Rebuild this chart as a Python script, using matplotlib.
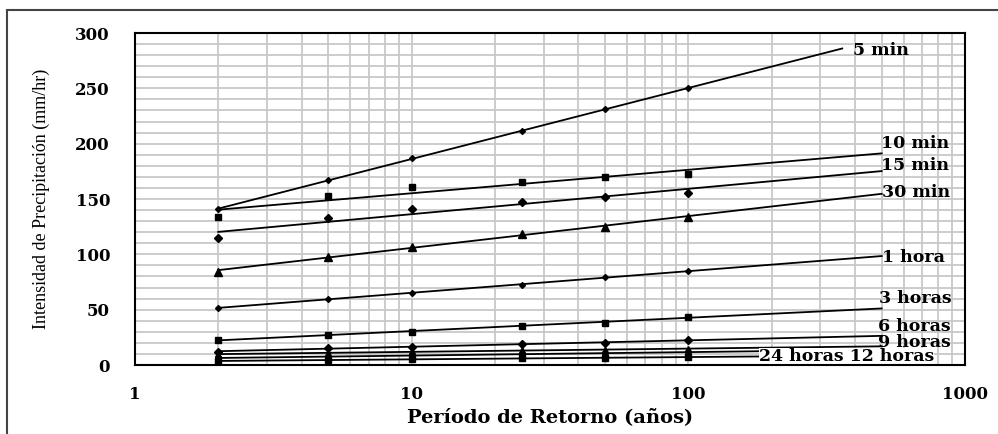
import numpy as np
import matplotlib
matplotlib.use('Agg')
import matplotlib.pyplot as plt
from matplotlib.ticker import LogLocator, FixedLocator, FuncFormatter, NullFormatter
from matplotlib.patches import Rectangle

# Periodos de retorno (años)
periodos = [2, 5, 10, 25, 50, 100]

# Intensidades (mm/hr)
i_5min = [140.7, 167.2, 186.7, 211.7, 231.0, 250.0]
i_10min = [133.4, 153.0, 160.5, 165.6, 169.6, 172.3]
i_15min = [114.4, 133.0, 140.7, 147.0, 152.1, 155.7]
i_30min = [84.3, 97.9, 106.9, 118.4, 125.0, 134.0]
i_1h = [51.8, 59.3, 65.4, 72.3, 79.2, 85.0]
i_3h = [22.5, 27.5, 30.1, 35.2, 38.2, 43.7]
i_6h = [12.0, 15.3, 16.6, 19.0, 20.2, 22.3]
i_9h = [9.5, 11.0, 12.2, 13.5, 13.8, 14.5]
i_12h = [6.5, 7.5, 8.3, 9.8, 11.0, 11.5]
i_24h = [3.5, 4.5, 5.3, 6.0, 6.6, 7.0]

series = [i_5min, i_10min, i_15min, i_30min, i_1h, i_3h, i_6h, i_9h, i_12h, i_24h]
# hasta donde llega la linea de tendencia
fin_tendencia = [360, 500, 500, 500, 500, 500, 500, 500, 500, 500]
marcadores = ['D', 's', 'D', '^', 'D', 's', 'D', '^', 'o', 's']
tam_marc = [3, 4.5, 4.5, 5.5, 3, 5, 4, 4.5, 4, 4.5]

# etiquetas de las curvas: (texto, x, y)
etiquetas = [('5 min', 394, 284.6), ('10 min', 497, 200.5), ('15 min', 497, 180.7),
             ('30 min', 500, 156.3), ('1 hora', 500, 96.7), ('3 horas', 490, 60.5),
             ('6 horas', 485, 34.5), ('9 horas', 485, 20.0)]
etiqueta_baja = ('24 horas 12 horas', 180, 7.8)

fig = plt.figure(figsize=(9.98, 4.34), dpi=100)
ax = fig.add_axes([135 / 998, 69 / 434, 830 / 998, 332 / 434])

lx = np.log10(periodos)
for vals, xfin, m, ms in zip(series, fin_tendencia, marcadores, tam_marc):
    # tendencia logaritmica como en la hoja de calculo
    b, a = np.polyfit(lx, vals, 1)
    xs = np.array([2, xfin])
    ax.plot(xs, a + b * np.log10(xs), color='black', lw=1.3, zorder=3)
    ax.plot(periodos, vals, linestyle='none', marker=m, ms=ms, color='black', zorder=4)

ax.set_xscale('log')
ax.set_xlim(1, 1000)
ax.set_ylim(0, 300)

ax.xaxis.set_major_locator(FixedLocator([1, 10, 100, 1000]))
ax.xaxis.set_minor_locator(LogLocator(base=10, subs=np.arange(2, 10)))
ax.xaxis.set_major_formatter(FuncFormatter(lambda v, p: '%d' % v))
ax.xaxis.set_minor_formatter(NullFormatter())
ax.set_yticks(np.arange(0, 301, 50))
ax.set_yticks(np.arange(0, 301, 10), minor=True)

ax.grid(True, which='both', color='#c8c8c8', lw=1.3, zorder=0)
ax.set_axisbelow(True)
ax.tick_params(which='both', length=0)
ax.tick_params(axis='y', pad=18)
ax.tick_params(axis='x', pad=15)
for lab in ax.get_xticklabels() + ax.get_yticklabels():
    lab.set_family('DejaVu Serif')
    lab.set_fontweight('bold')
    lab.set_fontsize(12)
for s in ax.spines.values():
    s.set_linewidth(1.5)
    s.set_color('black')
    s.set_zorder(6)

ax.set_ylabel('Intensidad de Precipitación (mm/hr)', family='Liberation Serif', fontsize=13)
ax.yaxis.set_label_coords(-0.102, 0.5)
ax.set_xlabel('Período de Retorno (años)', family='DejaVu Serif', fontweight='bold', fontsize=14)
ax.xaxis.set_label_coords(0.5, -0.13)

for txt, x, y in etiquetas:
    ax.text(x, y, txt, family='DejaVu Serif', fontweight='bold', fontsize=12.5,
            ha='left', va='center', zorder=5)
txt, x, y = etiqueta_baja
ax.text(x, y, txt, family='DejaVu Serif', fontweight='bold', fontsize=12.5,
        ha='left', va='center', zorder=5,
        bbox=dict(facecolor='white', edgecolor='none', pad=0.0))

# marco exterior
fig.patches.append(Rectangle((7 / 998, -0.1), 1.2, 1.1 - 10 / 434, transform=fig.transFigure,
                             fill=False, edgecolor='#444444', lw=1.5))

fig.savefig('out.png', dpi=100)
